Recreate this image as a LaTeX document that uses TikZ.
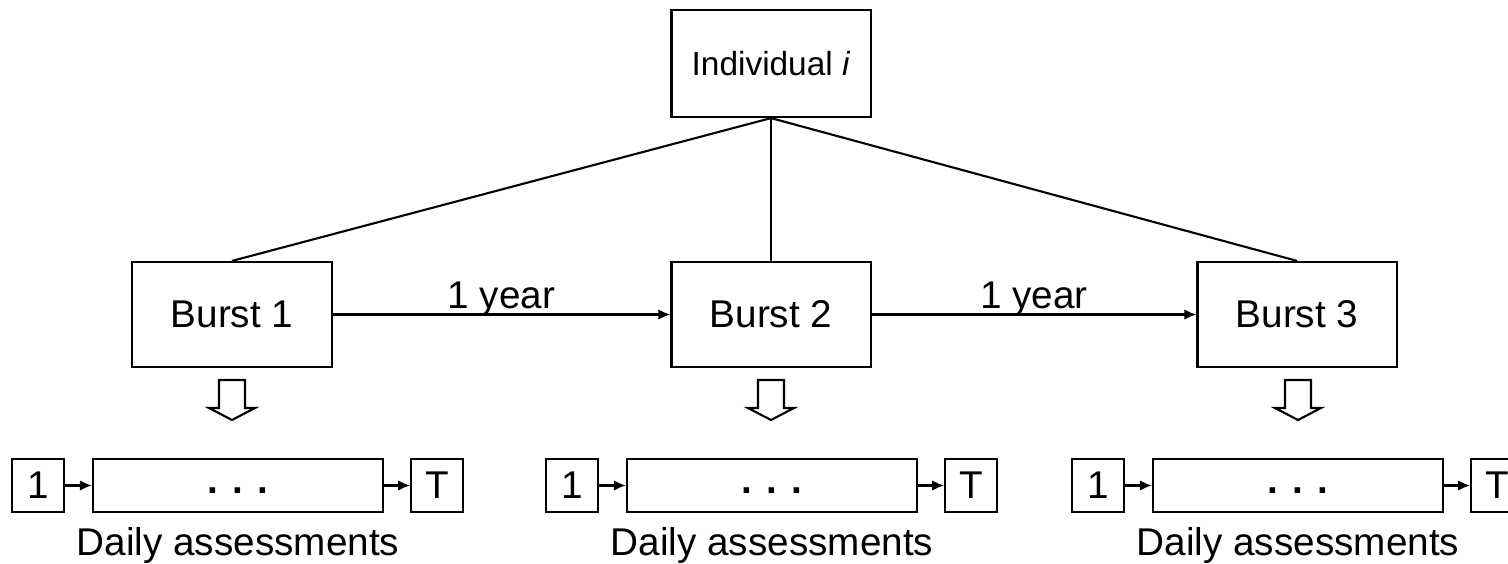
\documentclass[tikz,border=0pt]{standalone}
\usepackage{fontspec}
\setmainfont{Liberation Sans}
\usetikzlibrary{positioning, arrows.meta}

\begin{document}
\begin{tikzpicture}[x=0.01cm, y=-0.01cm, line width=0.6pt, >={Latex[length=3.4pt, width=3pt]},
    every node/.style={font=\fontsize{11pt}{13pt}\selectfont},
    box/.style={draw, minimum width=1.99cm, minimum height=1.05cm, inner sep=0pt},
    smallbox/.style={draw, minimum width=0.52cm, minimum height=0.53cm, inner sep=0pt},
    dotsbox/.style={draw, minimum width=2.9cm, minimum height=0.53cm, inner sep=0pt}]
    \clip (0, 0) rectangle (1508, 564);
    \node[box, minimum height=1.07cm, font=\fontsize{9.5pt}{12pt}\selectfont] (indiv) at (771, 63.5) {Individual \textit{i}};
    \node[box] (burst1) at (232, 314.5) {Burst 1};
    \node[box] (burst2) at (771, 314.5) {Burst 2};
    \node[box] (burst3) at (1297, 314.5) {Burst 3};
    \draw (indiv.south) -- (burst1.north);
    \draw (indiv.south) -- (burst2.north);
    \draw (indiv.south) -- (burst3.north);
    \draw[->] (burst1) -- node[above, inner sep=0pt, yshift=-0.8pt] {1 year} (burst2);
    \draw[->] (burst2) -- node[above, inner sep=0pt, yshift=-0.8pt] {1 year} (burst3);
    % hollow arrows down to the daily series
    \foreach \c in {232, 771, 1298}
        \draw (\c-13, 380) -- (\c+13, 380) -- (\c+13, 408) -- (\c+23, 408) -- (\c, 420)
              -- (\c-23, 408) -- (\c-13, 408) -- cycle;
    \foreach \c/\n in {238/1, 772/2, 1298/3} {
        \node[dotsbox] (dots\n) at (\c, 485.5) {\raisebox{-2.4pt}[0pt][0pt]{\textbf{. . .}}};
        \node[smallbox, left=0.27cm of dots\n] (first\n) {1};
        \node[smallbox, right=0.26cm of dots\n] (last\n) {T};
        \draw[->] (first\n) -- (dots\n);
        \draw[->] (dots\n) -- (last\n);
        \node[below=0.13cm of dots\n, inner sep=0pt] (daily\n) {Daily assessments};
    }
\end{tikzpicture}
\end{document}
